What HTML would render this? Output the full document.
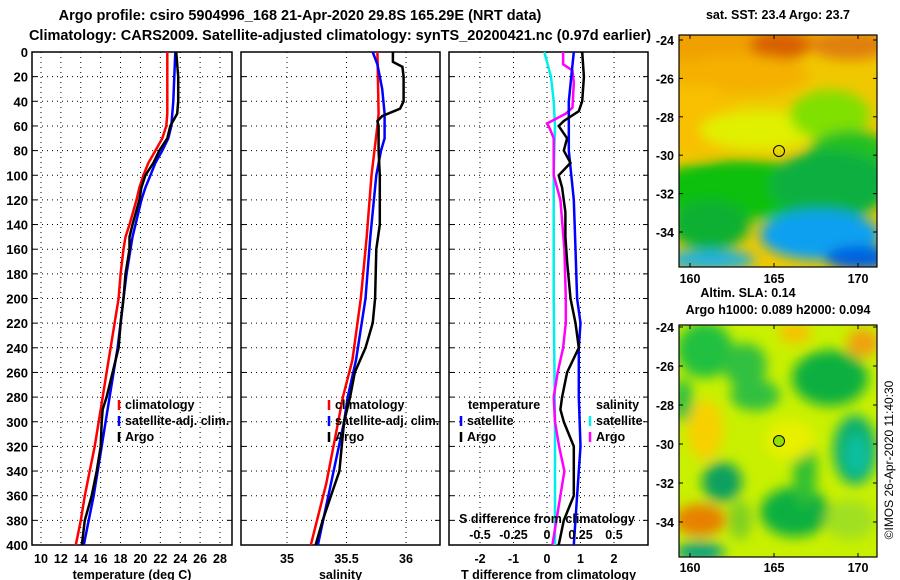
<!DOCTYPE html>
<html><head><meta charset="utf-8">
<style>
body{margin:0;background:#fff;}
svg{display:block;font-family:"Liberation Sans",sans-serif;font-weight:bold;}
</style></head>
<body>
<svg id="fig" width="900" height="580" viewBox="0 0 900 580" xmlns="http://www.w3.org/2000/svg">
<rect width="900" height="580" fill="#fff"/>
<text x="300" y="20" font-size="14.5" text-anchor="middle">Argo profile: csiro 5904996_168 21-Apr-2020 29.8S 165.29E (NRT data)</text>
<text x="340" y="40" font-size="14.5" text-anchor="middle">Climatology: CARS2009. Satellite-adjusted climatology: synTS_20200421.nc (0.97d earlier)</text>
<g id="panels"></g>
<g id="maps"></g>
</svg>
<script>
// ---------- data ----------
const depthTicks = [0,20,40,60,80,100,120,140,160,180,200,220,240,260,280,300,320,340,360,380,400];
const tempTicks = [10,12,14,16,18,20,22,24,26,28];
const salTicks = [35,35.5,36];
const tdiffTicks = [-2,-1,0,1,2];
const sdiffTicks = [-0.5,-0.25,0,0.25,0.5];

const tClimDepth = [0,20,40,50,60,70,80,90,100,110,120,140,150,160,180,200,220,240,260,280,290,300,320,340,360,380,400];
const tClim = [22.7,22.7,22.7,22.7,22.6,22.2,21.5,20.8,20.3,19.9,19.6,18.9,18.5,18.3,18.0,17.8,17.4,17.0,16.6,16.2,16.0,15.8,15.4,14.9,14.4,14.0,13.5];
const tSat = [23.5,23.4,23.3,23.2,23.1,22.8,22.2,21.5,21.0,20.5,20.1,19.5,19.2,19.0,18.6,18.3,18.0,17.7,17.3,16.9,16.7,16.5,16.1,15.7,15.3,14.8,14.3];
const tArgo = [23.6,23.8,23.8,23.7,23.0,22.7,21.9,21.3,20.5,20.1,19.9,19.2,18.9,18.9,18.5,18.3,18.0,17.8,17.2,16.6,16.2,16.1,16.0,15.6,15.1,14.4,14.1];

const sClimDepth = [0,50,60,100,150,200,250,280,300,350,400];
const sClim = [35.76,35.77,35.76,35.71,35.67,35.62,35.55,35.47,35.43,35.33,35.20];
const sSatDepth = [0,10,30,50,70,80,100,150,200,250,280,300,350,400];
const sSat = [35.72,35.76,35.80,35.82,35.82,35.79,35.75,35.70,35.66,35.58,35.51,35.48,35.37,35.26];
const sArgoDepth = [0,8,12,20,40,46,52,56,60,80,100,140,160,200,220,240,260,280,300,320,340,360,380,400];
const sArgo = [35.89,35.89,35.97,35.98,35.98,35.95,35.80,35.76,35.77,35.77,35.78,35.78,35.75,35.74,35.72,35.66,35.57,35.53,35.48,35.46,35.44,35.37,35.30,35.24];

const dTSatDepth = [0,40,80,120,160,200,220,240,280,320,360,400];
const dTSat = [0.8,0.65,0.65,0.8,0.85,0.9,1.0,0.95,0.95,1.0,0.9,0.8];
const dTArgoDepth = [0,20,40,48,56,60,70,80,90,100,110,130,150,170,200,220,240,260,280,290,300,320,340,360,380,400];
const dTArgo = [1.05,1.1,1.05,0.95,0.5,0.35,0.6,0.5,0.7,0.35,0.45,0.55,0.55,0.6,0.7,0.85,0.95,0.6,0.45,0.4,0.5,0.8,0.8,0.8,0.5,0.35];
const dSSatDepth = [0,20,40,60,100,200,300,400];
const dSSat = [-0.02,0.03,0.05,0.06,0.05,0.05,0.06,0.06];
const dSArgoDepth = [0,10,15,25,45,50,58,62,70,90,100,120,160,200,220,240,260,280,300,320,340,360,400];
const dSArgo = [0.12,0.12,0.19,0.2,0.19,0.14,0.0,0.02,0.05,0.05,0.05,0.1,0.13,0.14,0.14,0.12,0.08,0.05,0.06,0.09,0.13,0.10,0.04];

// ---------- helpers ----------
const NS="http://www.w3.org/2000/svg";
function mk(tag,attrs,parent){const e=document.createElementNS(NS,tag);for(const k in attrs)e.setAttribute(k,attrs[k]);parent.appendChild(e);return e;}
const Y0=52,Y1=545;
const yD=d=>Y0+(Y1-Y0)*d/400;
function lin(d0,d1,r0,r1){return v=>r0+(v-d0)*(r1-r0)/(d1-d0);}
const panels=document.getElementById('panels');

function panel(name,x0,x1,xs,ticks,fmt,showY,title){
  const g=mk('g',{},panels);
  
  
  depthTicks.forEach(d=>{
    if(d>0&&d<400){const l=mk('line',{x1:x0,x2:x1,y1:yD(d),y2:yD(d),stroke:'#000','stroke-width':1,'stroke-dasharray':'1,4'},g);
    }
    mk('line',{x1:x0,x2:x0+5,y1:yD(d),y2:yD(d),stroke:'#000'},g);
    mk('line',{x1:x1-5,x2:x1,y1:yD(d),y2:yD(d),stroke:'#000'},g);
    if(showY){const t=mk('text',{x:x0-4,y:yD(d)+5,'font-size':13,'text-anchor':'end'},g);t.textContent=d;
      }
  });
  ticks.forEach(v=>{
    const x=xs(v);
    const l=mk('line',{x1:x,x2:x,y1:Y0,y2:Y1,stroke:'#000','stroke-dasharray':'1,4'},g);
    
    const t=mk('text',{x:x,y:563,'font-size':12.5,'text-anchor':'middle'},g);t.textContent=fmt(v);
    
  });
  const r=mk('rect',{x:x0,y:Y0,width:x1-x0,height:Y1-Y0,fill:'none',stroke:'#000','stroke-width':1.5},g);
  
  const t=mk('text',{x:(x0+x1)/2,y:579,'font-size':12.5,'text-anchor':'middle'},g);t.textContent=title;
  
  return g;
}
function series(g,name,depths,vals,xs,color){
  const pts=vals.map((v,i)=>xs(v).toFixed(1)+','+yD(depths[i]).toFixed(1)).join(' ');
  const p=mk('polyline',{points:pts,fill:'none',stroke:color,'stroke-width':2.5},g);
  
  
}
function legend(g,x,y,color,label){
  mk('line',{x1:x,x2:x,y1:y-9,y2:y+1,stroke:color,'stroke-width':2.5},g);
  if(label){const t=mk('text',{x:x+6,y:y,'font-size':12.5},g);t.textContent=label;
  }
}
function txt(g,x,y,s,anchor,name){const t=mk('text',{x:x,y:y,'font-size':12.5,'text-anchor':anchor||'start'},g);t.textContent=s;
  return t;}

// Panel 1 temperature
const xT=lin(10,28,41,220);
const g1=panel('temperature-panel',32,232,xT,tempTicks,v=>v,true,'temperature (deg C)');
series(g1,'temp-climatology-line',tClimDepth,tClim,xT,'#f00');
series(g1,'temp-satellite-line',tClimDepth,tSat,xT,'#00f');
series(g1,'temp-argo-line',tClimDepth,tArgo,xT,'#000');
legend(g1,119,409,'#f00','climatology');legend(g1,119,425,'#00f','satellite-adj. clim.');legend(g1,119,441,'#000','Argo');

// Panel 2 salinity
const xS=lin(35,36,287,406);
const g2=panel('salinity-panel',241,440,xS,salTicks,v=>v,false,'salinity');
series(g2,'sal-climatology-line',sClimDepth,sClim,xS,'#f00');
series(g2,'sal-satellite-line',sSatDepth,sSat,xS,'#00f');
series(g2,'sal-argo-line',sArgoDepth,sArgo,xS,'#000');
legend(g2,329,409,'#f00','climatology');legend(g2,329,425,'#00f','satellite-adj. clim.');legend(g2,329,441,'#000','Argo');

// Panel 3 differences
const xDT=lin(0,1,547,580.5);
const xDS=lin(0,0.25,547,580.5);
const g3=panel('difference-panel',449,648,xDT,tdiffTicks,v=>v,false,'T difference from climatology');
series(g3,'sdiff-satellite-line',dSSatDepth,dSSat,xDS,'#0ee');
series(g3,'sdiff-argo-line',dSArgoDepth,dSArgo,xDS,'#f0f');
series(g3,'tdiff-satellite-line',dTSatDepth,dTSat,xDT,'#00f');
series(g3,'tdiff-argo-line',dTArgoDepth,dTArgo,xDT,'#000');
txt(g3,468,409,'temperature','start','legend-temperature-heading');
legend(g3,461,425,'#00f','satellite');legend(g3,461,441,'#000','Argo');
txt(g3,596,409,'salinity','start','legend-salinity-heading');
legend(g3,590,425,'#0ee','satellite');legend(g3,590,441,'#f0f','Argo');
txt(g3,547,523,'S difference from climatology','middle','s-diff-axis-title');
sdiffTicks.forEach(v=>{txt(g3,xDS(v),539,String(v),'middle','s-diff-tick-label');});

// ---------- maps ----------
const maps=document.getElementById('maps');
function mapFrame(name,y0,y1,latTop,latStep,blobs,base,labelY){
  const g=mk('g',{},maps);
  
  
  const id=name+'-clip';
  const defs=mk('defs',{},g);
  const cp=mk('clipPath',{id:id},defs);mk('rect',{x:679,y:y0,width:198,height:y1-y0},cp);
  const f=mk('filter',{id:name+'-blur',x:'-20%',y:'-20%',width:'140%',height:'140%'},defs);
  mk('feGaussianBlur',{stdDeviation:6},f);
  const inner=mk('g',{'clip-path':'url(#'+id+')'},g);
  mk('rect',{x:679,y:y0,width:198,height:y1-y0,fill:base},inner);
  const bg=mk('g',{filter:'url(#'+name+'-blur)'},inner);
  blobs.forEach(b=>mk('ellipse',{cx:b[0],cy:b[1],rx:b[2],ry:b[3],fill:b[4]},bg));
  const lonX=lin(160,170,690,858);
  [160,165,170].forEach(v=>{
    mk('line',{x1:lonX(v),x2:lonX(v),y1:y0,y2:y0+4,stroke:'#000'},g);
    mk('line',{x1:lonX(v),x2:lonX(v),y1:y1-4,y2:y1,stroke:'#000'},g);
    txt(g,lonX(v),labelY,String(v),'middle','map-lon-label');
  });
  [-24,-26,-28,-30,-32,-34].forEach((v,i)=>{
    const y=latTop+i*latStep;
    mk('line',{x1:679,x2:683,y1:y,y2:y,stroke:'#000'},g);
    mk('line',{x1:873,x2:877,y1:y,y2:y,stroke:'#000'},g);
    txt(g,674,y+5,String(v),'end','map-lat-label');
  });
  mk('rect',{x:679,y:y0,width:198,height:y1-y0,fill:'none',stroke:'#000','stroke-width':1.2},g);
  return g;
}
const gm1=mapFrame('sst-map',35,267,40,38.4,[
  [730,40,90,28,'#f0a000'],[780,45,30,15,'#d86000'],[850,45,40,15,'#e08010'],[740,75,70,20,'#f5b000'],
  [700,120,40,35,'#f8c000'],[760,130,60,20,'#e0f000'],[830,115,40,25,'#80e000'],[850,160,45,30,'#20c020'],
  [740,190,90,30,'#10c010'],[830,185,60,35,'#10b040'],[710,225,40,25,'#10b030'],[820,235,60,25,'#10a0f0'],
  [860,258,35,12,'#0060e0'],[710,260,45,10,'#20b0e0']
],'#f0c800',283);
const c1=mk('circle',{cx:779,cy:151,r:5.5,fill:'none',stroke:'#000','stroke-width':1},gm1);

txt(gm1,778,19,'sat. SST: 23.4 Argo: 23.7','middle','sst-map-title');
txt(gm1,748,297,'Altim. SLA: 0.14','middle','sla-title');
txt(gm1,778,314,'Argo h1000: 0.089 h2000: 0.094','middle','steric-height-title');

const gm2=mapFrame('sla-map',325,557,327,39,[
  [705,350,28,28,'#20c040'],[745,365,22,22,'#30c040'],[830,378,38,28,'#10b040'],[855,450,22,35,'#10b070'],
  [857,455,12,20,'#10c0a0'],[722,482,20,20,'#10a060'],[700,520,26,16,'#e88000'],[795,512,35,25,'#10b040'],
  [755,395,25,16,'#30c040'],[683,400,10,22,'#30c040'],[863,343,16,14,'#f0a010'],[700,552,25,10,'#10a080'],
  [705,430,18,30,'#f8d000'],[805,470,12,35,'#30c030'],[795,333,16,10,'#f8c000'],[790,440,25,20,'#e8f000'],
  [850,520,25,20,'#a0e020'],[740,520,12,20,'#80d020']
],'#c8f000',572);
const c2=mk('circle',{cx:779,cy:441,r:5.5,fill:'#90e000',stroke:'#000','stroke-width':1},gm2);

const cr=mk('text',{x:893,y:460,'font-size':12,'font-weight':'normal','text-anchor':'middle',transform:'rotate(-90 893 460)'},gm2);
cr.textContent='\u00a9IMOS 26-Apr-2020 11:40:30';

</script>
</body></html>
